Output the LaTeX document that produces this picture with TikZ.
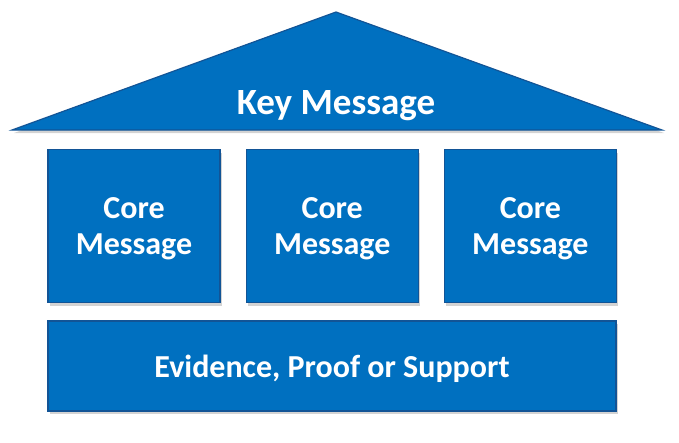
\documentclass[tikz,border=0pt]{standalone}
\usepackage{fontspec}
\setmainfont{Carlito}
\usetikzlibrary{positioning, shadows}
\definecolor{msgblue}{RGB}{0, 112, 192}
\definecolor{msgedge}{RGB}{18, 84, 150}

\begin{document}
\begin{tikzpicture}[x=1pt, y=-1pt,
    block/.style={rectangle, draw=msgedge, line width=1.2pt, fill=msgblue,
      drop shadow={shadow xshift=2pt, shadow yshift=-3pt, opacity=0.35},
      text=white, text depth=0pt, font=\bfseries\fontsize{32}{36}\selectfont, align=center}]
    \useasboundingbox (0,0) rectangle (679,442);

    % Roof
    \draw[draw=msgedge, line width=1.2pt, fill=msgblue,
      drop shadow={shadow xshift=2pt, shadow yshift=-3pt, opacity=0.35}]
      (12,130) -- (336,12) -- (662,130) -- cycle;
    \node[text=white, text depth=0pt, font=\bfseries\fontsize{37}{40}\selectfont] (key) at (336,103) {Key Message};

    % Pillars
    \node[block, minimum width=172pt, minimum height=153pt] (core1) at (134,226) {Core\\Message};
    \node[block, minimum width=172pt, minimum height=153pt, right=25pt of core1] (core2) {Core\\Message};
    \node[block, minimum width=172pt, minimum height=153pt, right=25pt of core2] (core3) {Core\\Message};

    % Base
    \node[block, minimum width=568pt, minimum height=90pt] (base) at (332,366) {Evidence, Proof or Support};
\end{tikzpicture}
\end{document}
